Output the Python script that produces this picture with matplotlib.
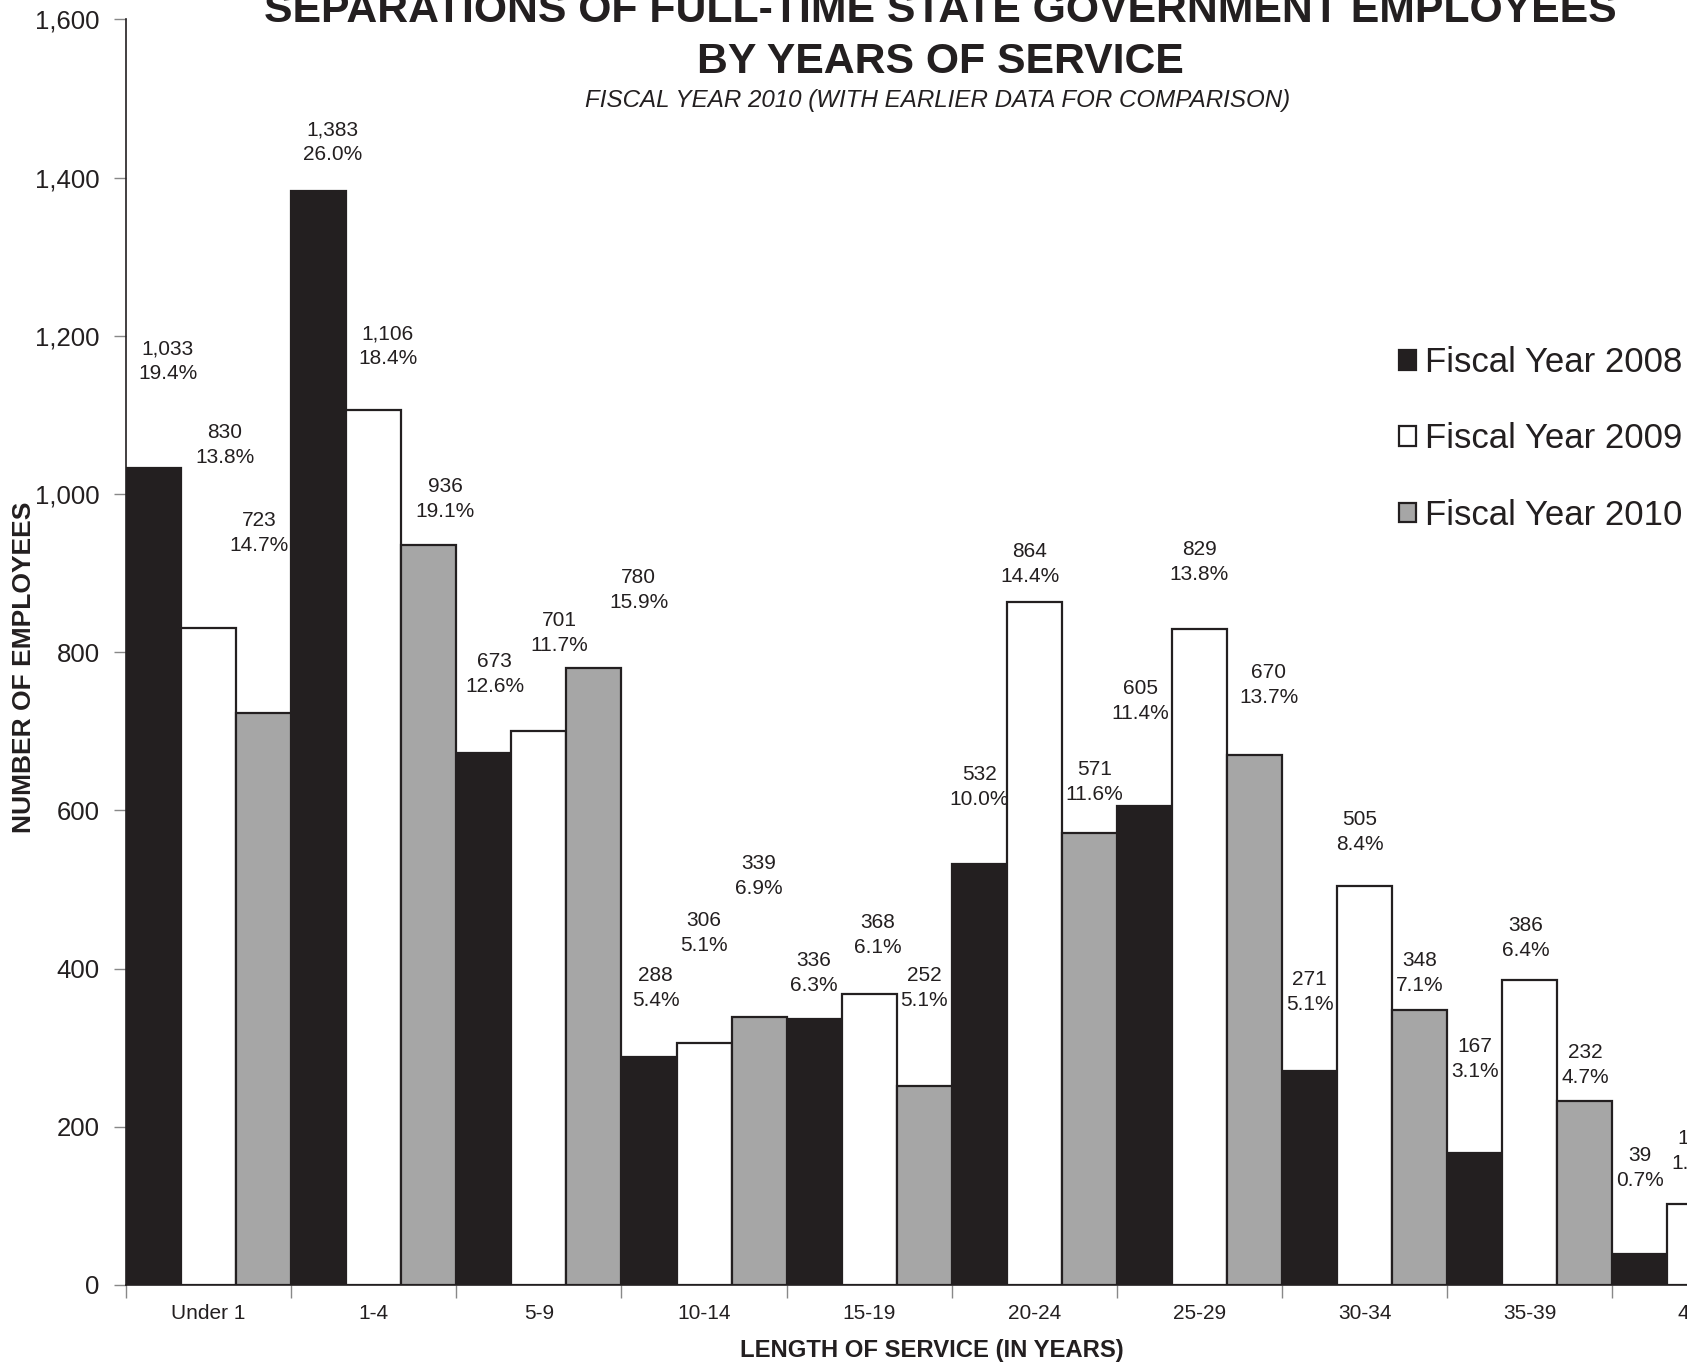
import matplotlib
matplotlib.use("Agg")
import matplotlib.pyplot as plt
from matplotlib.patches import Patch

plt.rcParams["font.family"] = ["Liberation Sans", "DejaVu Sans"]

# Separations by length of service
categories = ["Under 1", "1-4", "5-9", "10-14", "15-19", "20-24", "25-29", "30-34", "35-39", "40+"]
series_names = ["Fiscal Year 2008", "Fiscal Year 2009", "Fiscal Year 2010"]
fy2008 = [1033, 1383, 673, 288, 336, 532, 605, 271, 167, 39]
fy2009 = [830, 1106, 701, 306, 368, 864, 829, 505, 386, 102]
fy2010 = [723, 936, 780, 339, 252, 571, 670, 348, 232, 59]
pct2008 = ["19.4%", "26.0%", "12.6%", "5.4%", "6.3%", "10.0%", "11.4%", "5.1%", "3.1%", "0.7%"]
pct2009 = ["13.8%", "18.4%", "11.7%", "5.1%", "6.1%", "14.4%", "13.8%", "8.4%", "6.4%", "1.7%"]
pct2010 = ["14.7%", "19.1%", "15.9%", "6.9%", "5.1%", "11.6%", "13.7%", "7.1%", "4.7%", "1.2%"]

# where the data labels were dragged to in the original (label centre, y units / x offset in categories)
label_y = [
    [1168, 1445, 773, 375, 394, 629, 738, 370, 286, 148],
    [1062, 1187, 824, 445, 443, 912, 914, 573, 439, 170],
    [951, 994, 879, 517, 375, 636, 758, 394, 278, 150],
]
label_dx = [
    [0.085, 0.085, 0.065, 0.04, 0.0, 0.0, -0.026, 0.0, 0.0, 0.0],
    [0.10, 0.085, 0.124, 0.0, 0.05, -0.026, 0.0, -0.03, -0.026, 0.0],
    [-0.026, 0.10, 0.27, 0.0, 0.0, 0.03, 0.085, 0.0, 0.0, 0.0],
]

values = [fy2008, fy2009, fy2010]
pcts = [pct2008, pct2009, pct2010]
colors = ["#231f20", "#ffffff", "#a6a6a6"]
txt = "#231f20"

W, H = 1687, 1364
fig = plt.figure(figsize=(W / 100.0, H / 100.0), dpi=100)
cat_w = 165.15
ax = fig.add_axes([126 / W, 1 - 1285 / H, len(categories) * cat_w / W, (1285 - 19.4) / H])

bw = 1.0 / 3
for s in range(3):
    xs = [i + bw * (s + 0.5) for i in range(len(categories))]
    ax.bar(xs, values[s], width=bw, color=colors[s], edgecolor=txt, linewidth=1.6, zorder=2)
    for i, x in enumerate(xs):
        ax.text(x + label_dx[s][i], label_y[s][i], "{:,}\n{}".format(values[s][i], pcts[s][i]),
                ha="center", va="center", fontsize=15, color=txt, linespacing=1.4, zorder=3)

ax.set_xlim(0, len(categories))
ax.set_ylim(0, 1600)
ax.set_yticks(range(0, 1601, 200))
ax.set_yticklabels(["{:,}".format(v) for v in range(0, 1601, 200)], fontsize=18.5, color=txt)
ax.set_xticks(range(len(categories) + 1))
ax.set_xticklabels([])
ax.set_xticks([i + 0.5 for i in range(len(categories))], minor=True)
ax.set_xticklabels(categories, minor=True, fontsize=15, color=txt)
ax.tick_params(axis="x", which="major", length=9, width=1, color="#888888", direction="out")
ax.tick_params(axis="x", which="minor", length=0, pad=14)
ax.tick_params(axis="y", length=9, width=1, color="#888888", direction="out", pad=10)
ax.spines["top"].set_visible(False)
ax.spines["right"].set_visible(False)
ax.spines["left"].set_color(txt)
ax.spines["bottom"].set_color(txt)
ax.spines["left"].set_linewidth(1.2)
ax.spines["bottom"].set_linewidth(1.2)

fig.text(940 / W, 1 - 21.5 / H, "SEPARATIONS OF FULL-TIME STATE GOVERNMENT EMPLOYEES",
         ha="center", va="baseline", fontsize=30.8, fontweight="bold", color=txt)
fig.text(940 / W, 1 - 73 / H, "BY YEARS OF SERVICE",
         ha="center", va="baseline", fontsize=30.8, fontweight="bold", color=txt)
fig.text(938 / W, 1 - 107.5 / H, "FISCAL YEAR 2010 (WITH EARLIER DATA FOR COMPARISON)",
         ha="center", va="baseline", fontsize=17.4, style="italic", color=txt)

fig.text(24 / W, 1 - 667 / H, "NUMBER OF EMPLOYEES", rotation=90, ha="center", va="center",
         fontsize=19, fontweight="bold", color=txt)
fig.text(932 / W, 1 - 1351 / H, "LENGTH OF SERVICE (IN YEARS)", ha="center", va="center",
         fontsize=17.2, fontweight="bold", color=txt)

handles = [Patch(facecolor=c, edgecolor=txt, linewidth=1.6) for c in colors]
fig.legend(handles, series_names, loc="upper left", bbox_to_anchor=(1399 / W, 1 - 346 / H),
           frameon=False, fontsize=25, handlelength=0.5, handleheight=0.5,
           handletextpad=0.25, labelspacing=1.25, borderaxespad=0, borderpad=0, labelcolor=txt)

plt.savefig("out.png", dpi=100)
